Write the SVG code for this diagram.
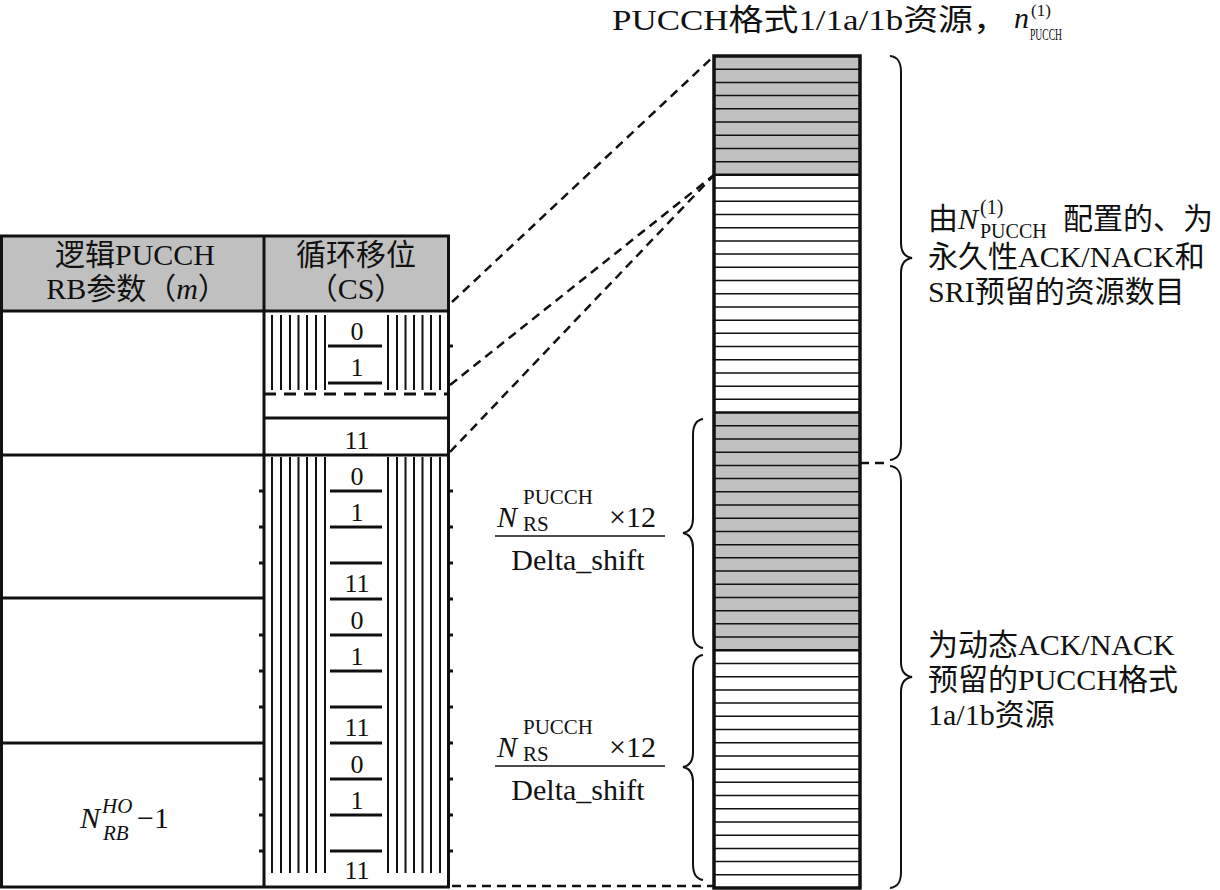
<svg xmlns="http://www.w3.org/2000/svg" width="1220" height="890" viewBox="0 0 1220 890">
<style>
text{font-family:"Liberation Serif","Noto Sans CJK SC",serif;fill:#111;}
.t30{font-size:30px;}
.t26{font-size:26px;}
.sm{font-size:21px;}
.it{font-style:italic;}
.mid{text-anchor:middle;}
.thick{stroke:#111;stroke-width:3;fill:none;}
.thin{stroke:#111;stroke-width:1.5;fill:none;}
.stripe{stroke:#111;stroke-width:2;fill:none;}
.dash{stroke:#111;stroke-width:2.5;stroke-dasharray:9 6;fill:none;}
.gray{fill:#c0c0c0;}
.brace{stroke:#111;stroke-width:2;fill:none;}
</style>

<g id="title">
<text class="t30" x="612" y="30" textLength="396" lengthAdjust="spacingAndGlyphs">PUCCH格式1/1a/1b资源，</text>
<text class="t30 it" x="1014" y="28">n</text>
<text x="1031" y="16" style="font-size:17px">(1)</text>
<text x="1030" y="40" style="font-size:16px" textLength="32" lengthAdjust="spacingAndGlyphs">PUCCH</text>
</g>

<g id="left-table">
<rect class="gray" x="1.5" y="236" width="447" height="75"/>
<rect class="thick" x="1.5" y="236" width="447" height="651"/>
<line class="thick" x1="264" y1="236" x2="264" y2="887"/>
<line class="thick" x1="1.5" y1="311" x2="448.5" y2="311"/>
<line class="thick" x1="1.5" y1="455" x2="448.5" y2="455"/>
<line class="thick" x1="1.5" y1="598" x2="264" y2="598"/>
<line class="thick" x1="1.5" y1="743" x2="264" y2="743"/>
<text class="t30 mid" x="135" y="265">逻辑PUCCH</text>
<text class="t30 mid" x="137" y="299">RB参数（<tspan class="it">m</tspan>）</text>
<text class="t30 mid" x="356" y="265">循环移位</text>
<text class="t30 mid" x="356" y="299">（CS）</text>
<text class="t30 it" x="80" y="828">N</text>
<text class="sm it" x="102" y="813">HO</text>
<text class="sm it" x="103" y="840">RB</text>
<text class="t30" x="137" y="828">−1</text>
</g>

<g id="cs-column">
<path class="stripe" d="M272,315V390M281,315V390M290,315V390M298.5,315V390M307,315V390M316,315V390M325,315V390M388,315V390M397,315V390M405.5,315V390M414,315V390M422.5,315V390M431,315V390M440,315V390"/>
<path class="stripe" d="M272,457V873M281,457V873M290,457V873M298.5,457V873M307,457V873M316,457V873M325,457V873M388,457V873M397,457V873M405.5,457V873M414,457V873M422.5,457V873M431,457V873M440,457V873"/>
<path class="thick" d="M328,346H382M328,383H382M330,491H382M330,527H382M330,563H382M330,599H382M330,635H382M330,671H382M330,707H382M330,743H382M330,779H382M330,815H382M330,851H382"/>
<path class="thick" d="M448,346H453M448,491H453M448,527H453M448,563H453M448,599H453M448,635H453M448,671H453M448,707H453M448,743H453M448,779H453M448,815H453M448,851H453M259,491H264M259,527H264M259,563H264M259,635H264M259,671H264M259,707H264M259,779H264M259,815H264M259,851H264"/>
<line x1="264" y1="394" x2="448" y2="394" stroke="#111" stroke-width="3" stroke-dasharray="12 8"/>
<line class="thick" x1="264" y1="418" x2="448" y2="418"/>
<text class="t26 mid" x="357" y="340">0</text>
<text class="t26 mid" x="357" y="376">1</text>
<text class="t26 mid" x="357" y="449">11</text>
<text class="t26 mid" x="357" y="485">0</text>
<text class="t26 mid" x="357" y="521">1</text>
<text class="t26 mid" x="357" y="592">11</text>
<text class="t26 mid" x="357" y="629">0</text>
<text class="t26 mid" x="357" y="665">1</text>
<text class="t26 mid" x="357" y="736">11</text>
<text class="t26 mid" x="357" y="773">0</text>
<text class="t26 mid" x="357" y="809">1</text>
<text class="t26 mid" x="357" y="879">11</text>
</g>

<g id="resource-column">
<rect class="gray" x="714" y="56" width="146" height="118.86"/>
<rect class="gray" x="714" y="412.57" width="146" height="237.72"/>
<path class="thin" d="M714,69.21H860M714,82.41H860M714,95.62H860M714,108.83H860M714,122.03H860M714,135.24H860M714,148.44H860M714,161.65H860M714,188.06H860M714,201.27H860M714,214.48H860M714,227.68H860M714,240.89H860M714,254.1H860M714,267.3H860M714,280.51H860M714,293.71H860M714,306.92H860M714,320.13H860M714,333.33H860M714,346.54H860M714,359.75H860M714,372.95H860M714,386.16H860M714,399.37H860M714,425.78H860M714,438.98H860M714,452.19H860M714,465.4H860M714,478.6H860M714,491.81H860M714,505.02H860M714,518.22H860M714,531.43H860M714,544.63H860M714,557.84H860M714,571.05H860M714,584.25H860M714,597.46H860M714,610.67H860M714,623.87H860M714,637.08H860M714,663.49H860M714,676.7H860M714,689.9H860M714,703.11H860M714,716.32H860M714,729.52H860M714,742.73H860M714,755.94H860M714,769.14H860M714,782.35H860M714,795.56H860M714,808.76H860M714,821.97H860M714,835.17H860M714,848.38H860M714,861.59H860M714,874.79H860"/>
<path stroke="#111" stroke-width="2.5" fill="none" d="M714,174.86H860M714,412.57H860M714,650.29H860"/>
<rect x="714" y="56" width="146" height="832" fill="none" stroke="#111" stroke-width="3.5"/>
</g>

<g id="braces">
<path class="brace" d="M890,56 C898,57 901,62 901,72 L901,243 C901,252 905,257 912,258 C905,259 901,264 901,273 L901,444 C901,454 898,459 890,460"/>
<path class="brace" d="M890,466 C898,467 901,472 901,482 L901,662 C901,671 905,676 912,677 C905,678 901,683 901,692 L901,872 C901,882 898,887 890,888"/>
<path class="brace" d="M703,419 C696,420 693,425 693,435 L693,518 C693,527 689,532 683,533 C689,534 693,539 693,548 L693,632 C693,642 696,647 703,648"/>
<path class="brace" d="M703,655 C696,656 693,661 693,671 L693,752 C693,761 689,766 683,767 C689,768 693,773 693,782 L693,864 C693,874 696,879 703,880"/>
</g>

<g id="label-permanent">
<text class="t30" x="928" y="229">由<tspan class="it">N</tspan></text>
<text x="980" y="214" style="font-size:20px">(1)</text>
<text x="980" y="238" style="font-size:20px">PUCCH</text>
<text class="t30" x="1063" y="229">配置的、为</text>
<text class="t30" x="928" y="267">永久性ACK/NACK和</text>
<text class="t30" x="928" y="302">SRI预留的资源数目</text>
</g>

<g id="label-dynamic">
<text class="t30" x="928" y="655">为动态ACK/NACK</text>
<text class="t30" x="928" y="690">预留的PUCCH格式</text>
<text class="t30" x="928" y="725">1a/1b资源</text>
</g>

<g id="fraction-1">
<text class="t30 it" x="497" y="527">N</text>
<text class="sm" x="523" y="504">PUCCH</text>
<text class="sm" x="523" y="531">RS</text>
<text class="t30" x="609" y="527">×12</text>
<line class="thin" x1="495" y1="536" x2="665" y2="536"/>
<text class="t30 mid" x="578" y="570">Delta_shift</text>
</g>

<g id="fraction-2">
<text class="t30 it" x="497" y="757">N</text>
<text class="sm" x="523" y="734">PUCCH</text>
<text class="sm" x="523" y="761">RS</text>
<text class="t30" x="609" y="757">×12</text>
<line class="thin" x1="495" y1="766" x2="665" y2="766"/>
<text class="t30 mid" x="578" y="800">Delta_shift</text>
</g>

<g id="connectors">
<line class="dash" x1="452" y1="302" x2="714" y2="56"/>
<line class="dash" x1="450" y1="385" x2="714" y2="175"/>
<line class="dash" x1="450" y1="452" x2="714" y2="175"/>
<line class="dash" x1="452" y1="886" x2="714" y2="886"/>
<line class="dash" x1="860" y1="463" x2="890" y2="463"/>
</g>
</svg>
